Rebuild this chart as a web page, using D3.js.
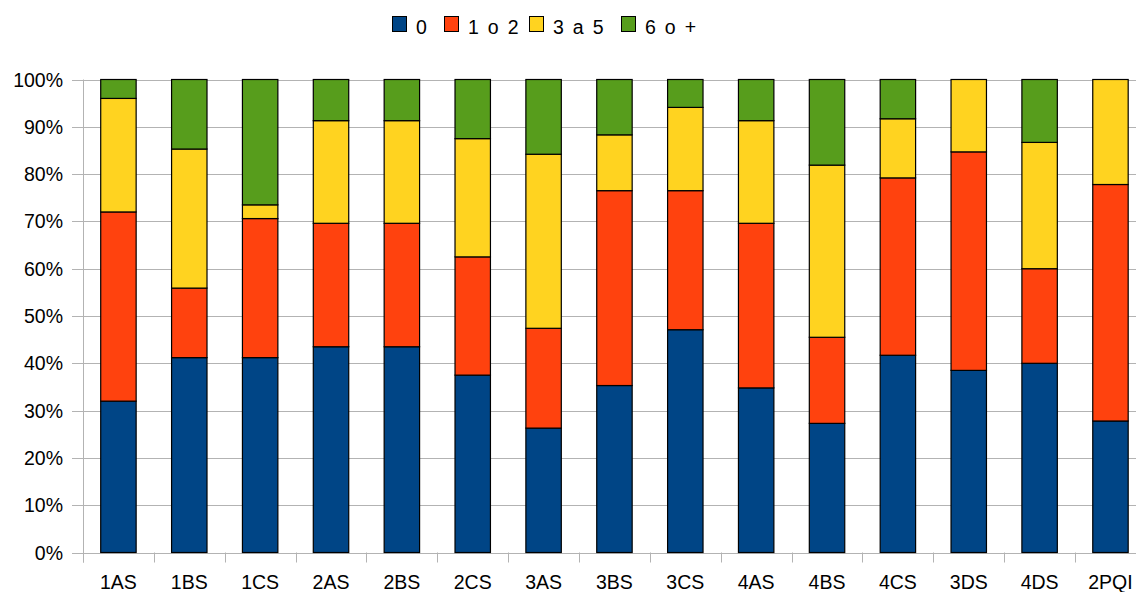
<!DOCTYPE html>
<html><head><meta charset="utf-8">
<script src="https://cdn.jsdelivr.net/npm/d3@7"></script>
<style>body{margin:0;background:#fff;}svg{display:block;font-family:"Liberation Sans",Arial,sans-serif;}</style>
</head><body>
<svg id="c" width="1136" height="592"></svg>
<script>
const categories = ["1AS","1BS","1CS","2AS","2BS","2CS","3AS","3BS","3CS","4AS","4BS","4CS","3DS","4DS","2PQI"];
const seriesNames = ["0","1 o 2","3 a 5","6 o +"];
const s0   = [32.0, 41.2, 41.2, 43.5, 43.5, 37.5, 26.3, 35.3, 47.1, 34.8, 27.3, 41.7, 38.5, 40.0, 27.8];
const s12  = [40.0, 14.7, 29.4, 26.1, 26.1, 25.0, 21.1, 41.2, 29.4, 34.8, 18.2, 37.5, 46.2, 20.0, 50.0];
const s35  = [24.0, 29.4,  2.9, 21.7, 21.7, 25.0, 36.8, 11.8, 17.6, 21.7, 36.4, 12.5, 15.3, 26.7, 22.2];
const s6   = [ 4.0, 14.7, 26.5,  8.7,  8.7, 12.5, 15.8, 11.7,  5.9,  8.7, 18.1,  8.3,  0.0, 13.3,  0.0];
const yTicks = [0,10,20,30,40,50,60,70,80,90,100];
const colors = ["#004586","#ff420e","#ffd320","#579d1c"];

const svg = d3.select("#c");
const mLeft = 83, mTop = 79.5, mBottom = 552.5;
const bandW = 70.86;
const x = d3.scaleBand().domain(categories).range([mLeft, mLeft + bandW*categories.length]).paddingInner(0.5).paddingOuter(0.25);
const y = d3.scaleLinear().domain([0,100]).range([mBottom, mTop]);

const rows = categories.map((c,i)=>({cat:c, k0:s0[i], k1:s12[i], k2:s35[i], k3:s6[i]}));
const stack = d3.stack().keys(["k0","k1","k2","k3"]);
const layers = stack(rows);

// gridlines
svg.append("g").selectAll("line").data(yTicks).join("line")
  .attr("x1", mLeft-11).attr("x2", 1136)
  .attr("y1", d=>Math.round(y(d))+0.5).attr("y2", d=>Math.round(y(d))+0.5)
  .attr("stroke","#b3b3b3").attr("stroke-width",1);
// y axis line
svg.append("line").attr("x1",mLeft+0.5).attr("x2",mLeft+0.5).attr("y1",mTop).attr("y2",mBottom+10)
  .attr("stroke","#b3b3b3");
// bottom ticks at category boundaries
svg.append("g").selectAll("line").data(d3.range(categories.length+1)).join("line")
  .attr("x1", i=>Math.round(mLeft + i*bandW)+0.5).attr("x2", i=>Math.round(mLeft + i*bandW)+0.5)
  .attr("y1", mBottom).attr("y2", mBottom+10).attr("stroke","#b3b3b3");

// y labels
svg.append("g").selectAll("text").data(yTicks).join("text")
  .attr("x", 63).attr("y", d=>y(d)+7)
  .attr("text-anchor","end").attr("font-size",19.5).attr("fill","#000")
  .text(d=>d+"%");

// bars
svg.append("g").selectAll("g").data(layers).join("g")
  .attr("fill",(d,i)=>colors[i])
  .selectAll("rect").data(d=>d.filter(p=>p[1]-p[0]>0)).join("rect")
  .attr("x", d=>x(d.data.cat)).attr("width", x.bandwidth())
  .attr("y", d=>y(d[1])).attr("height", d=>y(d[0])-y(d[1]))
  .attr("stroke","#000").attr("stroke-width",1.2);

// x labels
svg.append("g").selectAll("text").data(categories).join("text")
  .attr("x", d=>x(d)+x.bandwidth()/2).attr("y", 589)
  .attr("text-anchor","middle").attr("font-size",19.5).attr("fill","#000")
  .text(d=>d);

// legend
const legX = [392, 444, 529, 621];
const lg = svg.append("g");
seriesNames.forEach((n,i)=>{
  lg.append("rect").attr("x",legX[i]+0.5).attr("y",16.5).attr("width",14).attr("height",15)
    .attr("fill",colors[i]).attr("stroke","#000").attr("stroke-width",1);
  lg.append("text").attr("x",legX[i]+24).attr("y",34).attr("font-size",19.5)
    .attr("letter-spacing","1.8px").style("white-space","pre").text(n);
});
</script>
</body></html>
